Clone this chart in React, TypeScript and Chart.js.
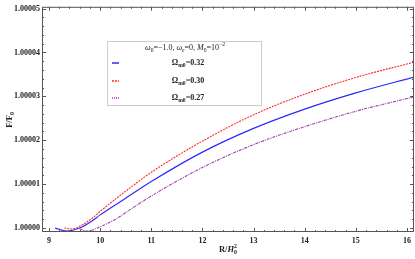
import React, { useEffect, useRef } from "react";
import Chart from "chart.js/auto";

// R / H0^2 positions and F/F0 values
const blueR = [9.12, 9.35, 9.6, 9.84, 10.0, 10.5, 11.0, 12.0, 13.0, 14.0, 15.0, 16.14];
const blueF = [1.0, 0.9999993, 1.0, 1.0000016, 1.000003, 1.0000068, 1.0000106, 1.0000173, 1.0000227, 1.0000271, 1.0000308, 1.0000344];

const redR = [9.3, 9.45, 9.6, 9.84, 10.0, 10.5, 11.0, 12.0, 13.0, 14.0, 15.0, 16.14];
const redF = [1.0, 0.9999998, 1.0000004, 1.0000022, 1.0000038, 1.0000084, 1.0000127, 1.0000198, 1.0000258, 1.0000305, 1.0000343, 1.0000378];

const purpleR = [9.6, 9.75, 10.0, 10.3, 10.65, 11.0, 12.0, 13.0, 14.0, 15.0, 16.14];
const purpleF = [0.9999998, 0.9999993, 1.0000003, 1.000002, 1.0000047, 1.0000073, 1.0000138, 1.000019, 1.0000231, 1.0000266, 1.0000299];

const seriesLabels = ["0.32", "0.30", "0.27"];
const xTicks = [9, 10, 11, 12, 13, 14, 15, 16];
const yTicks = [1.0, 1.00001, 1.00002, 1.00003, 1.00004, 1.00005];

const X_MIN = 8.863;
const X_MAX = 16.137;
const Y_MIN = 0.9999991;
const Y_MAX = 1.0000504;

const BLUE = "#2a2aff";
const RED = "#ff2a2a";
const PURPLE = "#a33ab3";
const FRAME = "#555555";
const SERIF = "'Liberation Serif', 'Times New Roman', serif";

type Seg = { t: string; it?: boolean; b?: boolean; sub?: boolean; sup?: boolean; noAdv?: boolean };

function segFont(s: Seg, size: number) {
  const sz = s.sub || s.sup ? size * 0.7 : size;
  return `${s.it ? "italic " : ""}${s.b ? "bold " : ""}${sz}px ${SERIF}`;
}

function drawRich(ctx: CanvasRenderingContext2D, segs: Seg[], cx: number, cy: number, size: number) {
  let total = 0;
  const widths: number[] = [];
  segs.forEach((s) => {
    ctx.font = segFont(s, size);
    const w = ctx.measureText(s.t).width;
    widths.push(w);
    if (!s.noAdv) total += w;
  });
  let x = cx - total / 2;
  ctx.textBaseline = "middle";
  ctx.textAlign = "left";
  segs.forEach((s, i) => {
    ctx.font = segFont(s, size);
    let dy = 0;
    if (s.sub) dy = size * 0.3;
    if (s.sup) dy = -size * 0.38;
    ctx.fillText(s.t, x, cy + dy);
    if (!s.noAdv) x += widths[i];
  });
}

const framePlugin = {
  id: "framePlugin",
  afterDraw(chart: any) {
    const ctx: CanvasRenderingContext2D = chart.ctx;
    const { left, right, top, bottom } = chart.chartArea;
    const xs = chart.scales.x;
    const ys = chart.scales.y;
    ctx.save();
    ctx.strokeStyle = FRAME;
    ctx.lineWidth = 1;
    ctx.strokeRect(left + 0.5, top + 0.5, right - left - 1, bottom - top - 1);

    ctx.beginPath();
    for (let i = 0; i < xTicks.length; i++) {
      for (let k = -5; k < 5; k++) {
        const v = xTicks[i] + k * 0.2;
        if (k < 0 && i > 0) continue;
        if (v < X_MIN || v > X_MAX) continue;
        const px = Math.round(xs.getPixelForValue(v)) + 0.5;
        const len = k === 0 ? 4 : 2;
        ctx.moveTo(px, bottom);
        ctx.lineTo(px, bottom - len);
        ctx.moveTo(px, top);
        ctx.lineTo(px, top + len);
      }
    }
    for (let i = 0; i < yTicks.length; i++) {
      for (let k = -5; k < 5; k++) {
        const v = yTicks[i] + k * 0.000002;
        if (k < 0 && i > 0) continue;
        if (v < Y_MIN || v > Y_MAX) continue;
        const py = Math.round(ys.getPixelForValue(v)) + 0.5;
        const len = k === 0 ? 4 : 2;
        ctx.moveTo(left, py);
        ctx.lineTo(left + len, py);
        ctx.moveTo(right, py);
        ctx.lineTo(right - len, py);
      }
    }
    ctx.stroke();

    ctx.fillStyle = "#222";
    drawRich(
      ctx,
      [
        { t: "R", b: true },
        { t: "/", b: true },
        { t: "H", b: true, it: true },
        { t: "0", b: true, sub: true, noAdv: true },
        { t: "2", b: true, sup: true },
      ],
      (left + right) / 2,
      250,
      8.5
    );
    ctx.save();
    ctx.translate(10, 120);
    ctx.rotate(-Math.PI / 2);
    drawRich(
      ctx,
      [
        { t: "F", b: true },
        { t: "/", b: true },
        { t: "F", b: true },
        { t: "0", b: true, sub: true },
      ],
      0,
      0,
      8.5
    );
    ctx.restore();

    const bx = 107.5, by = 41.5, bw = 154, bh = 64;
    ctx.fillStyle = "#ffffff";
    ctx.fillRect(bx, by, bw, bh);
    ctx.strokeStyle = "#cccccc";
    ctx.strokeRect(bx, by, bw, bh);
    ctx.fillStyle = "#222";
    drawRich(
      ctx,
      [
        { t: "ω", it: true },
        { t: "0", sub: true },
        { t: "=−1.0, " },
        { t: "ω", it: true },
        { t: "e", sub: true, it: true },
        { t: "=0, " },
        { t: "M", it: true },
        { t: "0", sub: true },
        { t: "=10" },
        { t: "−2", sup: true },
      ],
      185,
      48,
      8
    );
    const cols = [BLUE, RED, PURPLE];
    const dashes = [[], [2, 1], [1, 1]];
    const rows = [63, 81, 98];
    for (let i = 0; i < 3; i++) {
      ctx.save();
      ctx.strokeStyle = cols[i];
      ctx.lineWidth = 1.5;
      ctx.setLineDash(dashes[i]);
      ctx.beginPath();
      ctx.moveTo(112, rows[i]);
      ctx.lineTo(119, rows[i]);
      ctx.stroke();
      ctx.restore();
      ctx.fillStyle = "#222";
      drawRich(
        ctx,
        [
          { t: "Ω", b: true },
          { t: "m0", b: true, sub: true },
          { t: "=" + seriesLabels[i], b: true },
        ],
        188,
        rows[i],
        8
      );
    }
    ctx.restore();
  },
};

function toPts(xs: number[], ys: number[]) {
  return xs.map((x, i) => ({ x, y: ys[i] }));
}

export default function App() {
  const ref = useRef<HTMLCanvasElement>(null);
  useEffect(() => {
    if (!ref.current) return;
    const chart = new Chart(ref.current, {
      type: "line",
      data: {
        datasets: [
          {
            label: "Ωm0=" + seriesLabels[0],
            data: toPts(blueR, blueF),
            borderColor: BLUE,
            borderWidth: 1.2,
            pointRadius: 0,
            cubicInterpolationMode: "monotone",
          },
          {
            label: "Ωm0=" + seriesLabels[1],
            data: toPts(redR, redF),
            borderColor: RED,
            borderWidth: 1.1,
            borderDash: [2, 1],
            pointRadius: 0,
            cubicInterpolationMode: "monotone",
          },
          {
            label: "Ωm0=" + seriesLabels[2],
            data: toPts(purpleR, purpleF),
            borderColor: PURPLE,
            borderWidth: 1.1,
            borderDash: [3, 1, 1, 1],
            pointRadius: 0,
            cubicInterpolationMode: "monotone",
          },
        ],
      },
      options: {
        animation: false,
        responsive: false,
        devicePixelRatio: 1,
        layout: { padding: { top: 3, right: 1, left: 0, bottom: 0 } },
        plugins: { legend: { display: false }, tooltip: { enabled: false } },
        scales: {
          x: {
            type: "linear",
            min: X_MIN,
            max: X_MAX,
            grid: { display: false, drawTicks: false },
            border: { display: false },
            afterBuildTicks: (s: any) => {
              s.ticks = xTicks.map((v) => ({ value: v }));
            },
            afterFit: (s: any) => {
              s.height = 27;
            },
            ticks: {
              padding: 4,
              color: "#222",
              font: { family: SERIF, size: 8, weight: "bold" },
              callback: (v: any) => String(v),
              maxRotation: 0,
              autoSkip: false,
            },
          },
          y: {
            type: "linear",
            min: Y_MIN,
            max: Y_MAX,
            grid: { display: false, drawTicks: false },
            border: { display: false },
            afterBuildTicks: (s: any) => {
              s.ticks = yTicks.map((v) => ({ value: v }));
            },
            afterFit: (s: any) => {
              s.width = 42;
            },
            ticks: {
              padding: 2,
              color: "#222",
              font: { family: SERIF, size: 8, weight: "bold" },
              callback: (v: any) => Number(v).toFixed(5),
              autoSkip: false,
            },
          },
        },
      },
      plugins: [framePlugin],
    } as any);
    return () => chart.destroy();
  }, []);
  return (
    <div style={{ position: "absolute", left: 0, top: 0, width: 415, height: 259, background: "#fff" }}>
      <canvas ref={ref} width={415} height={259} style={{ display: "block" }} />
    </div>
  );
}
